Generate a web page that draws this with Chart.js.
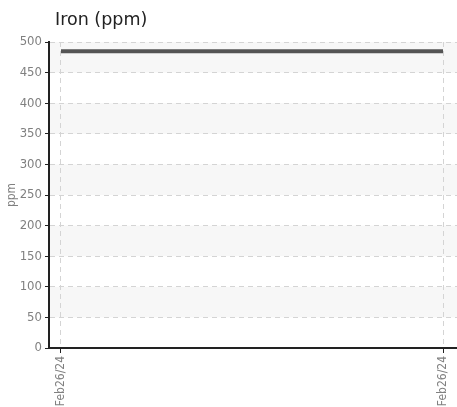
<!DOCTYPE html>
<html>
<head>
<meta charset="utf-8">
<script src="https://cdn.jsdelivr.net/npm/chart.js@4"></script>
<style>
  html, body { margin: 0; padding: 0; background: #fff; }
  #wrap { position: relative; width: 457px; height: 407px; }
  #title { position: absolute; left: 55px; top: 9px; font: 17.5px "DejaVu Sans", sans-serif; color: #222; }
</style>
</head>
<body>
<div id="wrap">
  <div id="title">Iron (ppm)</div>
  <canvas id="ironChart" width="457" height="407"></canvas>
</div>
<script>
  var DATES = ["Feb26/24", "Feb26/24"];
  var XPOS = [0, 1];
  var IRON = [485, 485];
  var Y_TICKS = [0, 50, 100, 150, 200, 250, 300, 350, 400, 450, 500];
  var BAND_COLOR = "#f7f7f7";
  var FAMILY = "'Liberation Sans Narrow', 'DejaVu Sans Condensed', sans-serif";

  // alternating light bands behind the grid
  var bands = {
    id: "bands",
    beforeDraw: function (chart) {
      var y = chart.scales.y, a = chart.chartArea, ctx = chart.ctx;
      ctx.save();
      ctx.fillStyle = BAND_COLOR;
      for (var i = 1; i < Y_TICKS.length; i += 2) {
        var top = y.getPixelForValue(Y_TICKS[i + 1] !== undefined ? Y_TICKS[i + 1] : Y_TICKS[i]);
        var bot = y.getPixelForValue(Y_TICKS[i]);
        ctx.fillRect(a.left, top, a.right - a.left, bot - top);
      }
      ctx.restore();
    }
  };

  new Chart(document.getElementById("ironChart"), {
    type: "line",
    data: {
      datasets: [{
        data: XPOS.map(function (x, i) { return { x: x, y: IRON[i] }; }),
        borderColor: "#555",
        borderWidth: 4,
        pointRadius: 0,
        tension: 0
      }]
    },
    options: {
      responsive: false,
      animation: false,
      layout: { padding: { top: 42, right: 0, left: 0, bottom: 0 } },
      plugins: { legend: { display: false }, tooltip: { enabled: false }, title: { display: false } },
      scales: {
        x: {
          type: "linear",
          min: -0.0314,
          max: 1.0366,
          afterBuildTicks: function (s) { s.ticks = XPOS.map(function (v) { return { value: v }; }); },
          afterFit: function (s) { s.height = 59; s.paddingLeft = 0; s.paddingRight = 0; },
          ticks: {
            autoSkip: false, minRotation: 90, maxRotation: 90, color: "#808080", font: { family: FAMILY, size: 12 }, padding: 3,
            callback: function (v) { var i = XPOS.indexOf(v); return i >= 0 ? DATES[i] : ""; }
          },
          grid: { color: "#d4d4d4", tickColor: "#222", tickLength: 5, tickBorderDash: [] },
          border: { color: "#222", width: 2, dash: [5, 4] }
        },
        y: {
          min: 0,
          max: 500,
          afterBuildTicks: function (s) { s.ticks = Y_TICKS.map(function (v) { return { value: v }; }); },
          afterFit: function (s) { s.width = 49; s.paddingTop = 0; s.paddingBottom = 0; },
          ticks: { color: "#808080", font: { family: FAMILY, size: 13 }, padding: 3 },
          title: { display: true, text: "ppm", color: "#808080", font: { family: FAMILY, size: 12 }, padding: { top: 5, bottom: 0 } },
          grid: { color: "#d4d4d4", tickColor: "#222", tickLength: 4, tickBorderDash: [] },
          border: { color: "#222", width: 2, dash: [5, 4] }
        }
      }
    },
    plugins: [bands]
  });
</script>
</body>
</html>
